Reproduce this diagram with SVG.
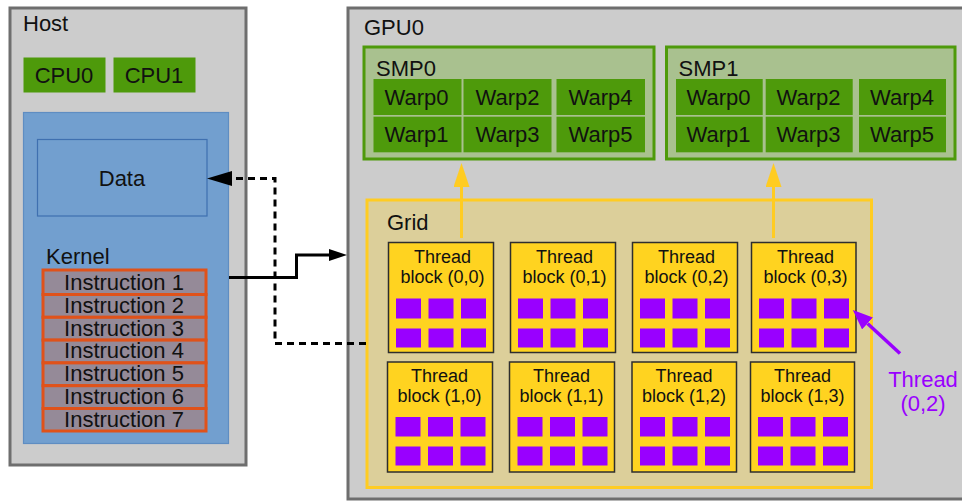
<svg xmlns="http://www.w3.org/2000/svg" width="962" height="501" viewBox="0 0 962 501">
<style>
text{font-family:"Liberation Sans",Arial,sans-serif;fill:#111;}
.t22{font-size:22px;}
.t18{font-size:18px;}
.mid{text-anchor:middle;}
.outer{fill:#cccccc;stroke:#6e6e6e;stroke-width:3;}
.cpu{fill:#4e9a0b;}
.blue{fill:#729fcf;stroke:#5f8dc2;stroke-width:1.2;}
.data{fill:#729fcf;stroke:#3f70b0;stroke-width:1.2;}
.instr{fill:#958a98;stroke:#e0521a;stroke-width:3;}
.smp{fill:#a9c18f;stroke:#4e9a0b;stroke-width:3;}
.warp{fill:#4e9a0b;}
.grid{fill:#dccf9a;stroke:#ffcc22;stroke-width:3;}
.blk{fill:#ffd320;stroke:#2e2e2e;stroke-width:1.5;}
.th{fill:#9900ff;}
.purple{fill:#9900ff;}
</style>
<defs>
<marker id="ab" markerUnits="userSpaceOnUse" markerWidth="18" markerHeight="12" refX="0" refY="6" orient="auto"><path d="M0,0 L18,6 L0,12 z" fill="#000"/></marker>
<marker id="ad" markerUnits="userSpaceOnUse" markerWidth="25" markerHeight="15" refX="0" refY="7.5" orient="auto"><path d="M0,0 L25,7.5 L0,15 z" fill="#000"/></marker>
<marker id="ay" markerUnits="userSpaceOnUse" markerWidth="24" markerHeight="16" refX="0" refY="8" orient="auto"><path d="M0,0 L24,8 L0,16 z" fill="#ffcc22"/></marker>
<marker id="ap" markerUnits="userSpaceOnUse" markerWidth="20" markerHeight="16" refX="0" refY="8" orient="auto"><path d="M0,0 L20,8 L0,16 z" fill="#9900ff"/></marker>
</defs>

<g id="host">
<rect class="outer" x="10" y="8" width="236" height="457"/>
<text class="t22" x="23" y="31">Host</text>
</g>
<g id="cpu0"><rect class="cpu" x="23.5" y="57.5" width="82" height="35"/><text class="t22 mid" x="64" y="83">CPU0</text></g>
<g id="cpu1"><rect class="cpu" x="113.5" y="57.5" width="82" height="35"/><text class="t22 mid" x="154" y="83">CPU1</text></g>
<g id="memory"><rect class="blue" x="23.5" y="112.5" width="205" height="331"/></g>
<g id="data"><rect class="data" x="37.5" y="139.5" width="169.5" height="76.5"/><text class="t22 mid" x="122" y="186">Data</text></g>
<g id="kernel">
<text class="t22" x="46" y="264">Kernel</text>
<rect class="instr" x="43" y="270" width="163" height="24.5"/>
<rect class="instr" x="43" y="294.5" width="163" height="22.8"/>
<rect class="instr" x="43" y="317.3" width="163" height="22.8"/>
<rect class="instr" x="43" y="340.1" width="163" height="22.8"/>
<rect class="instr" x="43" y="362.9" width="163" height="22.8"/>
<rect class="instr" x="43" y="385.7" width="163" height="22.8"/>
<rect class="instr" x="43" y="408.5" width="163" height="22.5"/>
<text class="t22 mid" x="124" y="290">Instruction 1</text>
<text class="t22 mid" x="124" y="312.8">Instruction 2</text>
<text class="t22 mid" x="124" y="335.6">Instruction 3</text>
<text class="t22 mid" x="124" y="358.4">Instruction 4</text>
<text class="t22 mid" x="124" y="381.2">Instruction 5</text>
<text class="t22 mid" x="124" y="404">Instruction 6</text>
<text class="t22 mid" x="124" y="426.8">Instruction 7</text>
</g>

<g id="gpu0">
<rect class="outer" x="348" y="8" width="620" height="491"/>
<text class="t22" x="364" y="35">GPU0</text>
</g>
<g id="smp0">
<rect class="smp" x="364" y="47" width="290" height="112"/>
<text class="t22" x="376" y="76">SMP0</text>
<rect class="warp" x="373.5" y="79" width="88" height="36"/>
<rect class="warp" x="463.5" y="79" width="88" height="36"/>
<rect class="warp" x="556.5" y="79" width="88.5" height="36"/>
<rect class="warp" x="373.5" y="116.7" width="88" height="35.6"/>
<rect class="warp" x="463.5" y="116.7" width="88" height="35.6"/>
<rect class="warp" x="556.5" y="116.7" width="88.5" height="35.6"/>
<text class="t22 mid" x="416.5" y="104.5">Warp0</text>
<text class="t22 mid" x="507.5" y="104.5">Warp2</text>
<text class="t22 mid" x="600.5" y="104.5">Warp4</text>
<text class="t22 mid" x="416.5" y="141.5">Warp1</text>
<text class="t22 mid" x="507.5" y="141.5">Warp3</text>
<text class="t22 mid" x="600.5" y="141.5">Warp5</text>
</g>
<g id="smp1">
<rect class="smp" x="666.5" y="47" width="288.5" height="112"/>
<text class="t22" x="678.5" y="76">SMP1</text>
<rect class="warp" x="676" y="79" width="86.7" height="36"/>
<rect class="warp" x="765.7" y="79" width="87" height="36"/>
<rect class="warp" x="859" y="79" width="87" height="36"/>
<rect class="warp" x="676" y="116.7" width="86.7" height="35.6"/>
<rect class="warp" x="765.7" y="116.7" width="87" height="35.6"/>
<rect class="warp" x="859" y="116.7" width="87" height="35.6"/>
<text class="t22 mid" x="718.5" y="104.5">Warp0</text>
<text class="t22 mid" x="808.5" y="104.5">Warp2</text>
<text class="t22 mid" x="902" y="104.5">Warp4</text>
<text class="t22 mid" x="718.5" y="141.5">Warp1</text>
<text class="t22 mid" x="808.5" y="141.5">Warp3</text>
<text class="t22 mid" x="902" y="141.5">Warp5</text>
</g>
<g id="grid">
<rect class="grid" x="367" y="200" width="504.5" height="287.5"/>
<text class="t22" x="387" y="230">Grid</text>
</g>

<g id="block00" transform="translate(388.5,242.5)">
<rect class="blk" width="105" height="110"/>
<text class="t18 mid" x="54" y="20.5">Thread</text><text class="t18 mid" x="54" y="40">block (0,0)</text>
<rect class="th" x="7.5" y="56" width="25" height="20"/><rect class="th" x="40" y="56" width="25" height="20"/><rect class="th" x="72.5" y="56" width="25" height="20"/>
<rect class="th" x="7.5" y="86" width="25" height="19"/><rect class="th" x="40" y="86" width="25" height="19"/><rect class="th" x="72.5" y="86" width="25" height="19"/>
</g>
<g id="block01" transform="translate(510.5,242.5)">
<rect class="blk" width="105" height="110"/>
<text class="t18 mid" x="54" y="20.5">Thread</text><text class="t18 mid" x="54" y="40">block (0,1)</text>
<rect class="th" x="7.5" y="56" width="25" height="20"/><rect class="th" x="40" y="56" width="25" height="20"/><rect class="th" x="72.5" y="56" width="25" height="20"/>
<rect class="th" x="7.5" y="86" width="25" height="19"/><rect class="th" x="40" y="86" width="25" height="19"/><rect class="th" x="72.5" y="86" width="25" height="19"/>
</g>
<g id="block02" transform="translate(632.5,242.5)">
<rect class="blk" width="105" height="110"/>
<text class="t18 mid" x="54" y="20.5">Thread</text><text class="t18 mid" x="54" y="40">block (0,2)</text>
<rect class="th" x="7.5" y="56" width="25" height="20"/><rect class="th" x="40" y="56" width="25" height="20"/><rect class="th" x="72.5" y="56" width="25" height="20"/>
<rect class="th" x="7.5" y="86" width="25" height="19"/><rect class="th" x="40" y="86" width="25" height="19"/><rect class="th" x="72.5" y="86" width="25" height="19"/>
</g>
<g id="block03" transform="translate(751.5,242.5)">
<rect class="blk" width="104.5" height="110"/>
<text class="t18 mid" x="54" y="20.5">Thread</text><text class="t18 mid" x="54" y="40">block (0,3)</text>
<rect class="th" x="7.5" y="56" width="25" height="20"/><rect class="th" x="40" y="56" width="25" height="20"/><rect class="th" x="72.5" y="56" width="25" height="20"/>
<rect class="th" x="7.5" y="86" width="25" height="19"/><rect class="th" x="40" y="86" width="25" height="19"/><rect class="th" x="72.5" y="86" width="25" height="19"/>
</g>
<g id="block10" transform="translate(387.5,362)">
<rect class="blk" width="105" height="110"/>
<text class="t18 mid" x="52" y="20">Thread</text><text class="t18 mid" x="52" y="40">block (1,0)</text>
<rect class="th" x="8" y="55" width="25" height="19.5"/><rect class="th" x="40.5" y="55" width="25" height="19.5"/><rect class="th" x="73" y="55" width="25" height="19.5"/>
<rect class="th" x="8" y="84.5" width="25" height="19"/><rect class="th" x="40.5" y="84.5" width="25" height="19"/><rect class="th" x="73" y="84.5" width="25" height="19"/>
</g>
<g id="block11" transform="translate(509.5,362)">
<rect class="blk" width="105" height="110"/>
<text class="t18 mid" x="52" y="20">Thread</text><text class="t18 mid" x="52" y="40">block (1,1)</text>
<rect class="th" x="8" y="55" width="25" height="19.5"/><rect class="th" x="40.5" y="55" width="25" height="19.5"/><rect class="th" x="73" y="55" width="25" height="19.5"/>
<rect class="th" x="8" y="84.5" width="25" height="19"/><rect class="th" x="40.5" y="84.5" width="25" height="19"/><rect class="th" x="73" y="84.5" width="25" height="19"/>
</g>
<g id="block12" transform="translate(632,362)">
<rect class="blk" width="104.5" height="110"/>
<text class="t18 mid" x="52" y="20">Thread</text><text class="t18 mid" x="52" y="40">block (1,2)</text>
<rect class="th" x="8" y="55" width="25" height="19.5"/><rect class="th" x="40.5" y="55" width="25" height="19.5"/><rect class="th" x="73" y="55" width="25" height="19.5"/>
<rect class="th" x="8" y="84.5" width="25" height="19"/><rect class="th" x="40.5" y="84.5" width="25" height="19"/><rect class="th" x="73" y="84.5" width="25" height="19"/>
</g>
<g id="block13" transform="translate(750.5,362)">
<rect class="blk" width="104" height="110"/>
<text class="t18 mid" x="52" y="20">Thread</text><text class="t18 mid" x="52" y="40">block (1,3)</text>
<rect class="th" x="7.5" y="55" width="25" height="19.5"/><rect class="th" x="40" y="55" width="25" height="19.5"/><rect class="th" x="72.5" y="55" width="25" height="19.5"/>
<rect class="th" x="7.5" y="84.5" width="25" height="19"/><rect class="th" x="40" y="84.5" width="25" height="19"/><rect class="th" x="72.5" y="84.5" width="25" height="19"/>
</g>
<g id="thread-label">
<text class="t22 mid purple" x="923" y="387">Thread</text>
<text class="t22 mid purple" x="923" y="411">(0,2)</text>
</g>

<g id="connectors" fill="none">
<path d="M229,277.5 H296.5 V255 H329" stroke="#000" stroke-width="3" marker-end="url(#ab)"/>
<path d="M366,343.5 H275 V178.5 H232" stroke="#000" stroke-width="3" stroke-dasharray="7,5" marker-end="url(#ad)"/>
<path d="M461.5,238 V187" stroke="#ffcc22" stroke-width="3" marker-end="url(#ay)"/>
<path d="M773.5,238 V187" stroke="#ffcc22" stroke-width="3" marker-end="url(#ay)"/>
<path d="M900,353.5 L867.5,323.5" stroke="#9900ff" stroke-width="3.5" marker-end="url(#ap)"/>
</g>
</svg>
